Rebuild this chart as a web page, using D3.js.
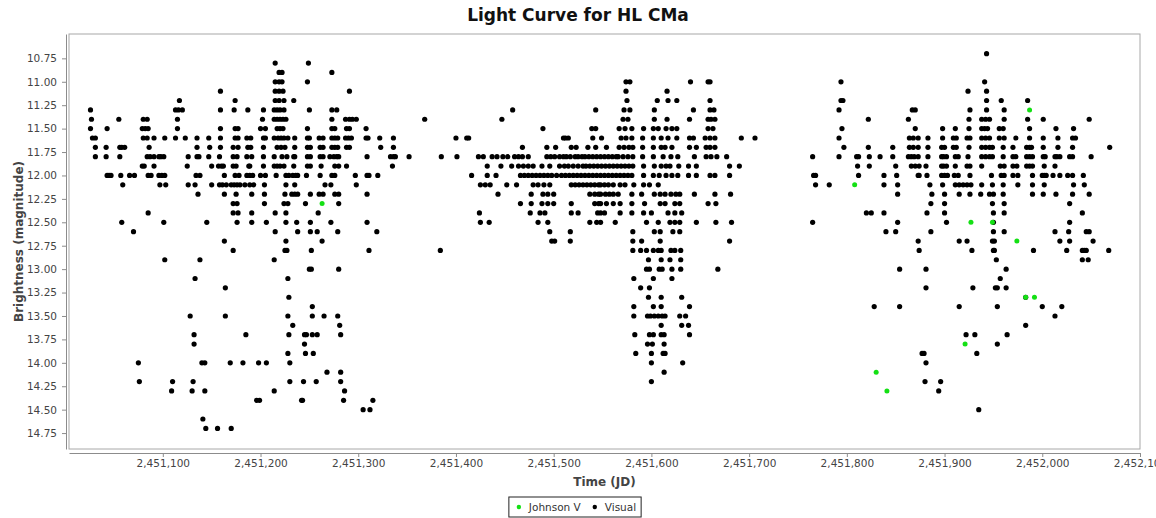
<!DOCTYPE html>
<html>
<head>
<meta charset="utf-8">
<script src="https://cdn.jsdelivr.net/npm/d3@7"></script>
<style>
  body { margin: 0; background: #fff; }
  text { font-family: "DejaVu Sans", Verdana, sans-serif; }
</style>
</head>
<body>
<div id="chart"></div>
<script>
// Light curve data.
// Visual estimates are grouped by magnitude: [mag, [JD - JD_BASE, ...]]
const JD_BASE = 2451000;

const visualSeason1 = [
  [10.8, [215, 249]],
  [10.9, [219, 222, 273]],
  [11.0, [215, 219, 222, 248]],
  [11.1, [159, 215, 219, 223, 291]],
  [11.2, [117, 174, 215, 219, 224, 234]],
  [11.3, [26, 113, 116, 120, 159, 173, 187, 203, 214, 217, 220, 224, 250, 273, 278]],
  [11.4, [27, 55, 80, 84, 115, 202, 214, 217, 220, 223, 226, 273, 287, 291, 294, 298]],
  [11.5, [26, 43, 79, 82, 85, 115, 159, 174, 177, 200, 205, 217, 220, 223, 248, 273, 276, 288, 291, 308]],
  [11.6, [28, 31, 80, 84, 91, 102, 113, 123, 135, 147, 159, 174, 177, 186, 190, 203, 205, 214, 218, 221, 224, 228, 235, 248, 250, 260, 264, 273, 276, 279, 287, 290, 293, 308, 310, 322, 336]],
  [11.7, [31, 42, 56, 58, 61, 86, 135, 148, 159, 172, 177, 187, 190, 203, 217, 221, 225, 235, 248, 251, 261, 264, 273, 276, 279, 288, 291, 323, 336]],
  [11.8, [31, 42, 56, 84, 87, 91, 96, 98, 101, 126, 135, 137, 147, 158, 172, 176, 186, 191, 203, 214, 222, 227, 234, 235, 248, 251, 261, 264, 271, 275, 278, 280, 309, 333, 336, 338, 352]],
  [11.9, [79, 81, 91, 125, 150, 157, 160, 162, 172, 175, 188, 189, 203, 214, 217, 220, 224, 234, 248, 251, 262, 276, 280, 288, 335]],
  [12.0, [43, 45, 47, 57, 66, 71, 85, 88, 96, 99, 102, 134, 138, 163, 174, 178, 186, 189, 192, 200, 205, 216, 226, 229, 233, 236, 238, 247, 261, 273, 276, 297, 309, 311, 320]],
  [12.1, [59, 97, 103, 126, 133, 150, 158, 161, 165, 170, 173, 176, 179, 184, 189, 193, 204, 226, 235, 266, 272, 298]],
  [12.2, [136, 163, 175, 191, 204, 225, 232, 235, 238, 251, 260, 264, 276, 280, 309]],
  [12.3, [172, 176, 204, 224, 228, 246, 280]],
  [12.4, [85, 172, 177, 191, 215, 226, 259]],
  [12.5, [58, 101, 145, 176, 191, 206, 226, 237, 251, 272, 309]],
  [12.6, [70, 215, 238, 251, 258, 279, 319]],
  [12.7, [163, 226, 263]],
  [12.8, [172, 225, 227, 252, 311]],
  [12.9, [102, 138, 214]],
  [13.0, [250, 252, 280]],
  [13.1, [133, 228]],
  [13.2, [164]],
  [13.3, [229]],
  [13.4, [253]],
  [13.5, [128, 164, 228, 253, 265, 279]],
  [13.6, [233, 281]],
  [13.7, [132, 185, 229, 245, 247, 253, 258, 282]],
  [13.8, [132, 245]],
  [13.9, [228, 246, 254]],
  [14.0, [75, 140, 143, 169, 182, 198, 206, 230]],
  [14.1, [268, 282]],
  [14.2, [76, 110, 131, 230, 244, 257, 282]],
  [14.3, [109, 130, 143, 214, 286]],
  [14.4, [196, 199, 242, 243, 285, 315]],
  [14.5, [305, 312]],
  [14.6, [141]],
  [14.7, [144, 156, 170]]
];

const visualSeason2 = [
  [11.0, [574, 578, 640, 658, 660]],
  [11.1, [574, 616]],
  [11.2, [575, 606, 617, 626, 660]],
  [11.3, [458, 543, 572, 578, 603, 643, 660, 664]],
  [11.4, [368, 447, 571, 576, 603, 616, 639, 658, 661, 665]],
  [11.5, [489, 539, 543, 567, 573, 580, 592, 602, 607, 615, 621, 626, 658, 663]],
  [11.6, [400, 411, 413, 510, 512, 515, 540, 549, 569, 574, 580, 591, 602, 610, 617, 626, 639, 643, 655, 660, 665, 692, 706]],
  [11.7, [468, 493, 502, 518, 523, 535, 543, 554, 567, 572, 577, 581, 591, 602, 610, 614, 621, 639, 646, 656, 660, 665]],
  [11.8, [385, 401, 423, 428, 437, 442, 448, 453, 460, 464, 468, 474, 493, 497, 501, 506, 510, 513, 517, 522, 525, 529, 532, 536, 540, 544, 548, 552, 556, 560, 564, 566, 571, 576, 581, 591, 602, 612, 620, 627, 644, 656, 661, 667, 677]],
  [11.9, [432, 446, 457, 464, 469, 474, 479, 488, 496, 506, 511, 515, 520, 525, 530, 533, 537, 541, 545, 549, 553, 557, 561, 565, 569, 573, 577, 581, 592, 603, 610, 615, 619, 628, 638, 646, 680, 690]],
  [12.0, [416, 432, 441, 466, 470, 474, 478, 482, 486, 490, 494, 498, 503, 508, 512, 516, 520, 524, 528, 532, 536, 540, 544, 548, 552, 556, 560, 564, 568, 572, 576, 580, 592, 602, 608, 615, 621, 627, 638, 646, 660, 665, 680]],
  [12.1, [425, 430, 435, 452, 462, 479, 484, 490, 496, 518, 522, 526, 530, 534, 538, 542, 546, 548, 552, 556, 561, 568, 573, 582, 592, 598, 607]],
  [12.2, [443, 477, 489, 494, 500, 537, 542, 546, 548, 553, 557, 561, 566, 580, 590, 603, 609, 614, 620, 625, 629, 644, 665, 681]],
  [12.3, [466, 477, 488, 494, 500, 518, 542, 546, 548, 554, 561, 568, 580, 593, 609, 614, 624, 629, 658, 666]],
  [12.4, [424, 476, 486, 491, 518, 525, 545, 548, 552, 568, 580, 592, 600, 617, 624, 631]],
  [12.5, [425, 434, 484, 494, 537, 544, 548, 563, 595, 607, 619, 624, 629, 646, 666, 682]],
  [12.6, [496, 517, 581, 603, 609, 622, 629]],
  [12.7, [498, 501, 517, 581, 590, 609, 680]],
  [12.8, [384, 581, 589, 595, 602, 607, 610, 620, 624, 630]],
  [12.9, [597, 610, 619, 630]],
  [13.0, [595, 598, 608, 611, 621, 630, 668]],
  [13.1, [582, 602, 621]],
  [13.2, [589, 598]],
  [13.3, [597, 610, 631]],
  [13.4, [582, 602, 610, 639]],
  [13.5, [582, 596, 599, 603, 607, 611, 614, 629, 635]],
  [13.6, [610, 631, 638]],
  [13.7, [583, 598, 602, 610, 613, 639]],
  [13.8, [596, 601, 613]],
  [13.9, [584, 600, 612, 614]],
  [14.0, [600, 632]],
  [14.1, [613]],
  [14.2, [600]]
];

const visualSeason3 = [
  [10.7, [943]],
  [11.0, [794, 941]],
  [11.1, [924, 943]],
  [11.2, [794, 796, 943, 958, 985]],
  [11.3, [792, 867, 870, 926, 943, 961]],
  [11.4, [822, 863, 925, 938, 942, 946, 961, 985, 1001, 1048]],
  [11.5, [795, 870, 898, 911, 925, 938, 941, 944, 956, 960, 987, 1014, 1032]],
  [11.6, [792, 864, 868, 873, 883, 898, 909, 912, 923, 926, 938, 942, 946, 956, 961, 973, 987, 1001, 1016, 1031, 1034]],
  [11.7, [797, 822, 847, 864, 868, 873, 883, 897, 900, 909, 912, 925, 938, 942, 946, 949, 960, 970, 984, 987, 989, 1001, 1016, 1031, 1069]],
  [11.8, [765, 792, 810, 812, 823, 834, 847, 863, 866, 869, 873, 883, 897, 899, 902, 911, 914, 924, 938, 942, 946, 949, 960, 970, 973, 984, 987, 990, 1001, 1003, 1013, 1015, 1018, 1028, 1031, 1050]],
  [11.9, [811, 823, 850, 866, 870, 874, 881, 897, 899, 902, 911, 923, 926, 938, 957, 961, 970, 974, 984, 987, 990, 1002, 1013]],
  [12.0, [766, 768, 812, 838, 851, 873, 874, 882, 897, 900, 903, 910, 914, 926, 948, 958, 961, 970, 975, 990, 1000, 1002, 1004, 1011, 1018, 1026, 1031, 1042]],
  [12.1, [768, 782, 838, 852, 885, 898, 911, 915, 919, 923, 927, 938, 949, 960, 975, 990, 1002, 1032, 1043]],
  [12.2, [852, 887, 900, 915, 926, 937, 946, 950, 960, 990, 1001, 1014, 1031, 1048]],
  [12.3, [886, 900, 949, 961, 1028]],
  [12.4, [820, 825, 838, 882, 900, 950, 961, 1041]],
  [12.5, [765, 852, 902, 950, 1028]],
  [12.6, [840, 850, 886, 950, 961, 1013, 1027, 1045, 1048]],
  [12.7, [873, 915, 923, 949, 951, 1018, 1028, 1052]],
  [12.8, [874, 928, 950, 951, 991, 1025, 1041, 1043, 1045, 1068]],
  [12.9, [953, 1041, 1047]],
  [13.0, [854, 881, 963]],
  [13.1, [957]],
  [13.2, [881, 929, 952, 954, 963]],
  [13.3, [983]],
  [13.4, [828, 854, 915, 954, 1000, 1020]],
  [13.5, [1013]],
  [13.6, [983]],
  [13.7, [922, 931, 964]],
  [13.8, [954]],
  [13.9, [877, 879, 933]],
  [14.0, [881]],
  [14.2, [880, 896]],
  [14.3, [894]],
  [14.5, [935]]
];

// Johnson V: [JD - JD_BASE, mag]
const johnsonV = [
  [263, 12.3], [808, 12.1], [830, 14.1], [841, 14.3], [921, 13.8], [927, 12.5],
  [949, 12.5], [974, 12.7], [983, 13.3], [987, 11.3], [992, 13.3]
];

const xTickValues = [2451100, 2451200, 2451300, 2451400, 2451500, 2451600, 2451700, 2451800, 2451900, 2452000, 2452100];
const yTickValues = [10.75, 11.00, 11.25, 11.50, 11.75, 12.00, 12.25, 12.50, 12.75, 13.00, 13.25, 13.50, 13.75, 14.00, 14.25, 14.50, 14.75];

const width = 1156, height = 518;
const plot = { left: 69, right: 1140, top: 34, bottom: 449 };

const visual = [visualSeason1, visualSeason2, visualSeason3]
  .flatMap(rows => rows.flatMap(([mag, days]) => days.map(d => ({ jd: JD_BASE + d, mag }))));
const johnson = johnsonV.map(([d, mag]) => ({ jd: JD_BASE + d, mag }));

const x = d3.scaleLinear().domain([2451004, 2452100]).range([plot.left, plot.right]);
const y = d3.scaleLinear().domain([10.49, 14.92]).range([plot.top, plot.bottom]);

const svg = d3.select("#chart").append("svg")
  .attr("width", width)
  .attr("height", height);

// Title
svg.append("text")
  .attr("x", 578).attr("y", 21)
  .attr("text-anchor", "middle")
  .style("font-size", "17px").style("font-weight", "bold")
  .attr("fill", "#111")
  .text("Light Curve for HL CMa");

// Plot background and border
svg.append("rect")
  .attr("x", plot.left).attr("y", plot.top)
  .attr("width", plot.right - plot.left).attr("height", plot.bottom - plot.top)
  .attr("fill", "#fff").attr("stroke", "#a8a8a8");

// Axes
var xAxis = svg.append("g")
  .attr("transform", "translate(0," + (plot.bottom + 4) + ")")
  .call(d3.axisBottom(x).tickValues(xTickValues).tickFormat(d3.format(",")).tickSize(4).tickSizeOuter(0).tickPadding(3));

var yAxis = svg.append("g")
  .attr("transform", "translate(" + (plot.left - 3) + ",0)")
  .call(d3.axisLeft(y).tickValues(yTickValues).tickFormat(d3.format(".2f")).tickSize(4).tickSizeOuter(0).tickPadding(5));

[xAxis, yAxis].forEach(g => {
  g.select(".domain").attr("stroke", "#8c8c8c");
  g.selectAll(".tick line").attr("stroke", "#8c8c8c");
  g.selectAll(".tick text")
    .attr("fill", "#444")
    .style("font-size", "10.5px")
    .style("font-family", "'DejaVu Sans', Verdana, sans-serif");
});

// Axis titles
svg.append("text")
  .attr("x", (plot.left + plot.right) / 2).attr("y", 486)
  .attr("text-anchor", "middle")
  .style("font-size", "12px").style("font-weight", "bold")
  .attr("fill", "#444")
  .text("Time (JD)");

svg.append("text")
  .attr("transform", "translate(22.5," + (plot.top + plot.bottom) / 2 + ") rotate(-90)")
  .attr("text-anchor", "middle")
  .style("font-size", "12px").style("font-weight", "bold")
  .attr("fill", "#444")
  .text("Brightness (magnitude)");

// Points
svg.append("clipPath").attr("id", "plot-clip")
  .append("rect")
  .attr("x", plot.left).attr("y", plot.top)
  .attr("width", plot.right - plot.left).attr("height", plot.bottom - plot.top);

var points = svg.append("g").attr("clip-path", "url(#plot-clip)");

points.selectAll(".visual")
  .data(visual)
  .enter().append("circle")
  .attr("class", "visual")
  .attr("cx", d => x(d.jd))
  .attr("cy", d => y(d.mag))
  .attr("r", 2.6)
  .attr("fill", "#000");

points.selectAll(".johnson")
  .data(johnson)
  .enter().append("circle")
  .attr("class", "johnson")
  .attr("cx", d => x(d.jd))
  .attr("cy", d => y(d.mag))
  .attr("r", 2.5)
  .attr("fill", "#14e014");

// Legend
var legend = svg.append("g");
var legendBox = legend.append("rect")
  .attr("fill", "#fff").attr("stroke", "#222");
var items = [{ name: "Johnson V", color: "#14e014" }, { name: "Visual", color: "#000" }];
var cursor = 0;
items.forEach(item => {
  legend.append("circle")
    .attr("cx", cursor + 10).attr("cy", 0)
    .attr("r", 2.2).attr("fill", item.color);
  var t = legend.append("text")
    .attr("x", cursor + 20).attr("y", 4)
    .style("font-size", "10.5px")
    .attr("fill", "#333")
    .text(item.name);
  cursor += 20 + t.node().getComputedTextLength() + 4;
});
legendBox.attr("x", 0).attr("y", -10).attr("width", cursor + 1).attr("height", 20);
legend.attr("transform", "translate(" + (575 - (cursor + 1) / 2) + ",507)");
</script>
</body>
</html>
